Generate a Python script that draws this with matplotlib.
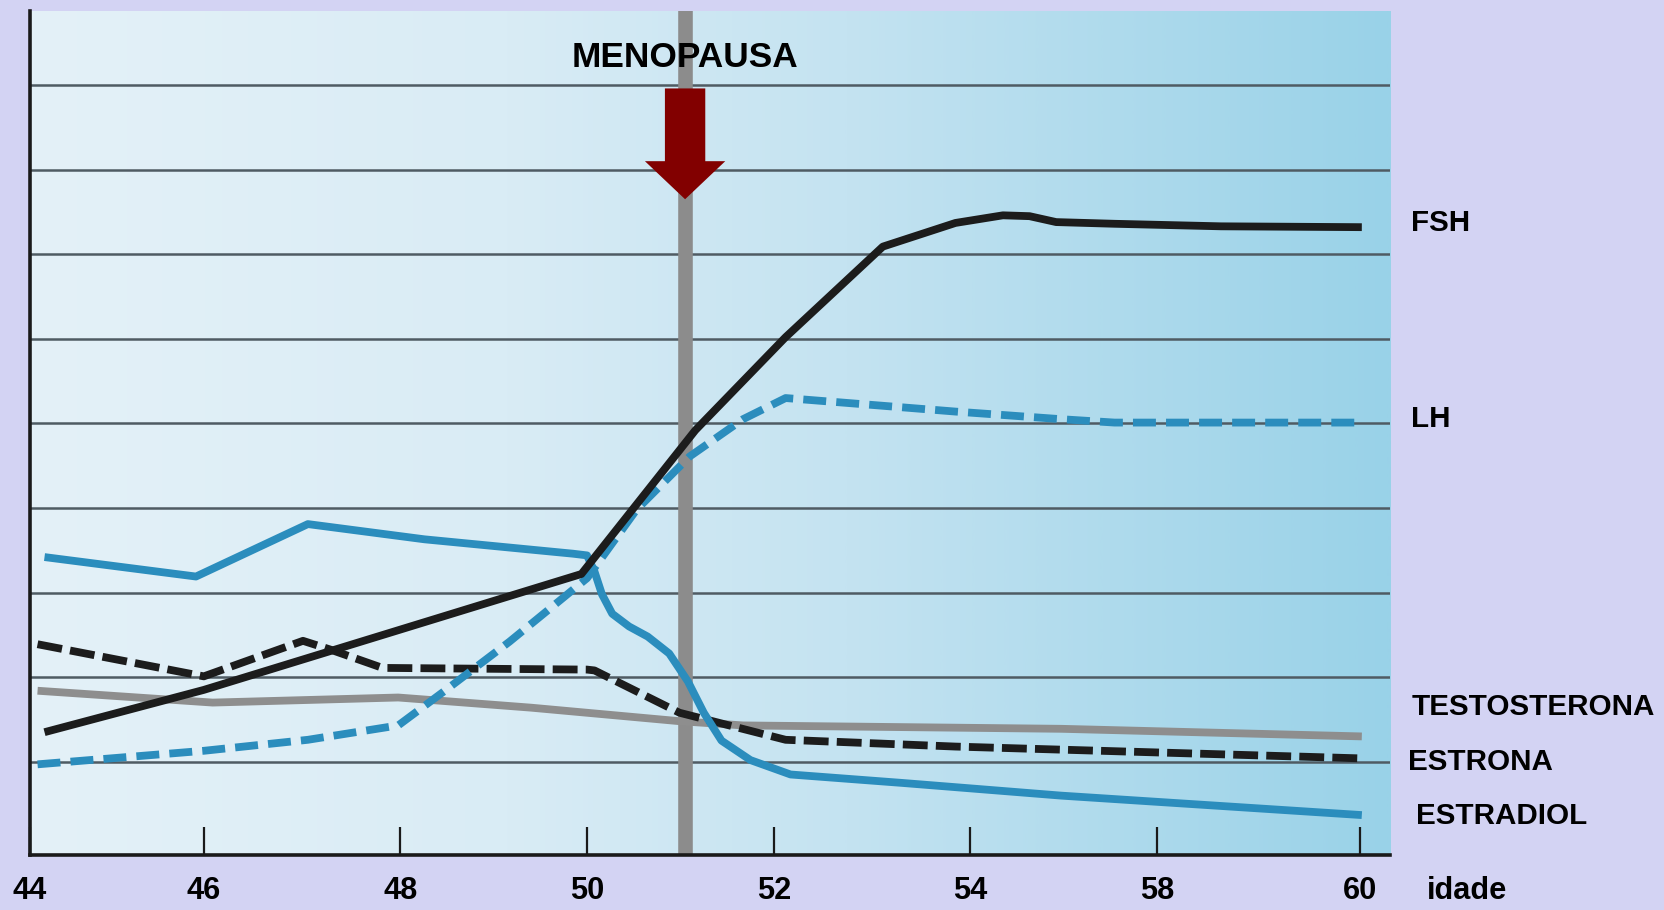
import numpy as np
import matplotlib
matplotlib.use('Agg')
import matplotlib.pyplot as plt
from matplotlib.patches import Polygon
from matplotlib.colors import LinearSegmentedColormap
from matplotlib import font_manager as fm

# ---------------- data ----------------
tick_ages = [44, 46, 48, 50, 52, 54, 58, 60]
tick_labels = ['44', '46', '48', '50', '52', '54', '58', '60']

fsh_age = [44.17, 46.0, 49.94, 51.16, 52.12, 53.11, 53.85, 54.70, 55.27, 55.84, 57.09, 58.63, 60.02]
fsh_val = [1.35, 1.85, 3.22, 4.92, 6.02, 7.09, 7.37, 7.46, 7.45, 7.38, 7.36, 7.33, 7.32]

lh_age = [44.09, 46.0, 47.06, 47.98, 48.49, 49.17, 50.0, 50.53, 51.10, 51.67, 52.12, 52.77, 53.85, 55.95, 57.09, 60.02]
lh_val = [0.97, 1.13, 1.26, 1.43, 1.85, 2.42, 3.17, 3.98, 4.61, 5.05, 5.30, 5.24, 5.14, 5.05, 5.01, 5.01]

estradiol_age = [44.17, 45.91, 47.06, 48.26, 49.85, 50.0, 50.08, 50.16, 50.27, 50.45, 50.65, 50.88, 51.08, 51.25, 51.44, 51.75, 52.17, 53.31, 55.95, 60.02]
estradiol_val = [3.42, 3.19, 3.81, 3.63, 3.46, 3.44, 3.25, 2.98, 2.75, 2.60, 2.48, 2.28, 1.95, 1.58, 1.25, 1.02, 0.85, 0.75, 0.60, 0.37]

estrona_age = [44.09, 46.0, 47.01, 47.28, 47.82, 50.0, 50.08, 50.99, 52.12, 53.85, 60.02]
estrona_val = [2.39, 2.01, 2.43, 2.33, 2.11, 2.09, 2.08, 1.58, 1.26, 1.18, 1.04]

testo_age = [44.09, 46.09, 47.98, 49.40, 50.99, 51.67, 55.95, 60.02]
testo_val = [1.84, 1.70, 1.76, 1.64, 1.48, 1.43, 1.39, 1.30]

menopause_age = 51.05
series_names = ['FSH', 'LH', 'TESTOSTERONA', 'ESTRONA', 'ESTRADIOL']

# ---------------- layout ----------------
W, H = 1568.0, 858.0

_names = {f.name for f in fm.fontManager.ttflist}
if 'Liberation Sans Narrow' in _names:
    FONT = ['Liberation Sans Narrow', 'DejaVu Sans']
    FS = 1.0
else:
    FONT = ['Liberation Sans', 'DejaVu Sans']
    FS = 0.82

# horizontal placement of the (unevenly drawn) age ticks on the scale
slot = [0, 164, 349, 525, 701, 886, 1062, 1253]
ext_ages = [42] + tick_ages + [62]
ext_slot = [-164] + slot + [1253 + 191]


def fwd(a):
    return np.interp(a, ext_ages, ext_slot)


def inv(s):
    return np.interp(s, ext_slot, ext_ages)


fig = plt.figure(figsize=(16.64, 9.10), dpi=100)
fig.patch.set_facecolor('#d3d3f3')

rect = [28 / W, 1 - 806 / H, (1310 - 28) / W, (806 - 10) / H]

# gradient background
bg = fig.add_axes(rect, zorder=0)
grad = np.linspace(0, 1, 512).reshape(1, -1)
cmap = LinearSegmentedColormap.from_list(
    'bg', [(0.0, '#e4f1f8'), (0.35, '#d9ecf5'), (0.6, '#c4e3f1'), (1.0, '#99d2e8')])
bg.imshow(grad, aspect='auto', cmap=cmap, extent=(0, 1, 0, 1), interpolation='bilinear')
bg.set_axis_off()

ax = fig.add_axes(rect, zorder=1)
ax.set_facecolor('none')
ax.set_xscale('function', functions=(fwd, inv))
ax.set_xlim(44, 60.30)
ax.set_ylim(-0.10, 9.88)

# grid lines
ax.set_yticks(range(1, 10))
ax.yaxis.grid(True, color='#4f5b63', lw=1.8, zorder=1)
ax.tick_params(axis='y', length=0, labelleft=False)
ax.set_axisbelow(True)

# x ticks
ax.set_xticks(tick_ages)
ax.set_xticklabels(tick_labels, fontfamily=FONT, fontweight='bold', fontsize=27 * FS)
ax.tick_params(axis='x', direction='in', length=20, width=1.6, color='#1a1a1a', pad=15)
ax.xaxis.set_minor_locator(matplotlib.ticker.NullLocator())

for s in ['top', 'right']:
    ax.spines[s].set_visible(False)
for s in ['left', 'bottom']:
    ax.spines[s].set_linewidth(2.6)
    ax.spines[s].set_color('#1a1a1a')
    ax.spines[s].set_zorder(5)

# menopause vertical line
ax.axvline(menopause_age, color='#8c8c8c', lw=10.5, zorder=2)

lw = 5.6
ax.plot(testo_age, testo_val, color='#8e8e8e', lw=lw, solid_capstyle='butt', solid_joinstyle='round', zorder=3)
ax.plot(estrona_age, estrona_val, color='#1c1c1c', lw=lw, dashes=(3.2, 1.05), dash_capstyle='butt', zorder=3)
ax.plot(estradiol_age, estradiol_val, color='#2b8dbd', lw=lw, solid_capstyle='butt', solid_joinstyle='round', zorder=4)
ax.plot(lh_age, lh_val, color='#2b8dbd', lw=lw, dashes=(2.95, 1.3), dash_capstyle='butt', zorder=4)
ax.plot(fsh_age, fsh_val, color='#1c1c1c', lw=lw, solid_capstyle='butt', solid_joinstyle='round', zorder=4)

# arrow
sw, hw = 0.216, 0.43
y_top, y_base, y_tip = 8.96, 8.10, 7.65
arrow = Polygon([(menopause_age - sw, y_top), (menopause_age + sw, y_top),
                 (menopause_age + sw, y_base), (menopause_age + hw, y_base),
                 (menopause_age, y_tip), (menopause_age - hw, y_base),
                 (menopause_age - sw, y_base)], closed=True,
                facecolor='#820000', edgecolor='none', zorder=6)
ax.add_patch(arrow)

ax.text(menopause_age, 9.33, 'MENOPAUSA', ha='center', va='center', fontsize=31 * FS,
        fontweight='bold', family=FONT, color='black', zorder=7)

# right-hand labels
lab_pos = [(1330, 210), (1330, 395), (1330, 667), (1327, 718), (1334, 769)]
for name, (px, py) in zip(series_names, lab_pos):
    fig.text(px / W, 1 - py / H, name, ha='left', va='center', fontsize=26 * FS,
             fontweight='bold', family=FONT, color='black')
fig.text(1345 / W, 1 - 840 / H, 'idade', ha='left', va='center', fontsize=27 * FS,
         fontweight='bold', family=FONT, color='black')

fig.savefig('out.png', dpi=100, facecolor=fig.get_facecolor())
